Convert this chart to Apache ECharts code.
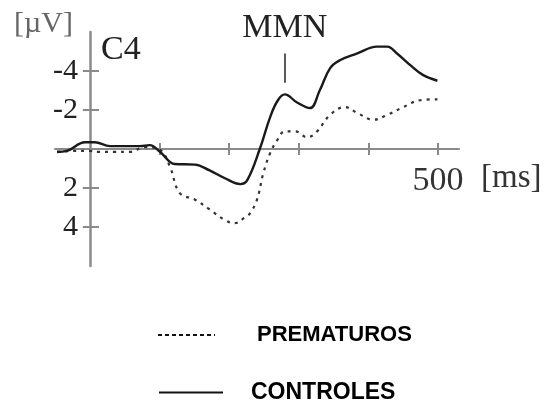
<!DOCTYPE html>
<html>
<head>
<meta charset="utf-8">
<script src="https://cdn.jsdelivr.net/npm/echarts@6/dist/echarts.min.js"></script>
<style>
  html, body { margin: 0; padding: 0; background: #fff; }
  #chart { width: 546px; height: 405px; }
</style>
</head>
<body>
<div id="chart"></div>
<script>
// ERP waveforms at electrode C4 (time in ms, amplitude in µV, negative up)
const controlesTime = [-47, -33, -7, 7, 29, 50, 72, 86, 101, 122, 151, 172, 194, 216, 226, 244, 259, 270, 280, 297, 316, 330, 345, 359, 384, 412, 427, 441, 460, 478, 499];
const controlesUv   = [0.15, 0.1, -0.35, -0.35, -0.15, -0.15, -0.15, -0.2, 0.15, 0.77, 0.8, 1.1, 1.5, 1.8, 1.6, 0.0, -1.65, -2.5, -2.8, -2.4, -2.1, -3.0, -4.15, -4.55, -4.9, -5.25, -5.25, -4.9, -4.3, -3.8, -3.5];

const prematurosTime = [-47, -22, 0, 14, 36, 57, 79, 101, 115, 129, 151, 172, 194, 208, 223, 230, 240, 249, 259, 269, 280, 295, 312, 326, 345, 366, 384, 407, 427, 450, 474, 499];
const prematurosUv   = [0.15, 0.1, 0.1, 0.15, 0.15, 0.15, -0.1, 0.05, 0.9, 2.25, 2.6, 3.1, 3.65, 3.8, 3.5, 3.3, 2.6, 1.25, 0.2, -0.45, -0.9, -0.9, -0.6, -0.9, -1.75, -2.15, -1.85, -1.5, -1.75, -2.15, -2.5, -2.55];

const yTickValues = [-4, -2, 2, 4];
const xTickValues = [100, 200, 300, 400, 500];
const xLabelValues = [500];
const mmnLatency = 280;

const seriesNames = ['PREMATUROS', 'CONTROLES'];

const pair = (xs, ys) => xs.map((x, i) => [x, ys[i]]);

const serif = '"Liberation Serif", "DejaVu Serif", serif';
const sans = '"Liberation Sans", Arial, sans-serif';
const axisGray = '#8a8a8a';

const X_RANGE = { min: -50, max: 530 };
const Y_RANGE = { min: -6, max: 6 };

const chart = echarts.init(document.getElementById('chart'), null, { renderer: 'canvas' });

// one legend block per series, stacked
const legendBlock = (name, left, top, width, textPad, fontSize, lineType) => ({
  orient: 'horizontal', left: left, top: top, padding: 0,
  itemWidth: width, itemHeight: 14,
  itemStyle: { opacity: 0 },
  textStyle: { fontFamily: sans, fontSize: fontSize, fontWeight: 'bold', color: '#000', padding: [0, 0, 0, textPad] },
  data: [{ name: name, lineStyle: { type: lineType, width: 2, color: '#111' } }]
});

chart.setOption({
  animation: false,
  backgroundColor: '#fff',
  grid: { left: 55, right: 87, top: 32, bottom: 139 },
  title: [
    { text: '[µV]', left: 14, top: 9, padding: 0,
      textStyle: { fontFamily: serif, fontSize: 30, fontWeight: 'normal', color: '#666' } },
    { text: 'C4', left: 101, top: 33, padding: 0,
      textStyle: { fontFamily: serif, fontSize: 34, fontWeight: 'normal', color: '#222' } },
    { text: '[ms]', left: 481, top: 162, padding: 0,
      textStyle: { fontFamily: serif, fontSize: 33, fontWeight: 'normal', color: '#333' } }
  ],
  xAxis: [
    {
      type: 'value', min: X_RANGE.min, max: X_RANGE.max,
      splitLine: { show: false },
      axisLine: { onZero: true, lineStyle: { color: axisGray, width: 2 } },
      axisTick: { show: true, customValues: xTickValues, length: 6, lineStyle: { color: axisGray, width: 2 } },
      axisLabel: { show: true, customValues: xLabelValues, margin: -102,
        fontFamily: serif, fontSize: 34, color: '#333' }
    },
    {
      // upper half of the crossing time ticks, placed on the zero line
      type: 'value', min: X_RANGE.min, max: X_RANGE.max, position: 'bottom', offset: -117,
      splitLine: { show: false },
      axisLine: { show: false, onZero: false },
      axisTick: { show: true, inside: true, customValues: xTickValues, length: 6, lineStyle: { color: axisGray, width: 2 } },
      axisLabel: { show: false }
    }
  ],
  yAxis: [
    {
      type: 'value', min: Y_RANGE.min, max: Y_RANGE.max, inverse: true,
      splitLine: { show: false },
      axisLine: { onZero: true, lineStyle: { color: axisGray, width: 2.5 } },
      axisTick: { show: true, customValues: yTickValues, length: 7, lineStyle: { color: axisGray, width: 2 } },
      axisLabel: { show: true, customValues: yTickValues, margin: -23,
        fontFamily: serif, fontSize: 30, color: '#222' }
    },
    {
      // right half of the crossing amplitude ticks, placed on the zero line
      type: 'value', min: Y_RANGE.min, max: Y_RANGE.max, inverse: true, position: 'left', offset: -35,
      splitLine: { show: false },
      axisLine: { show: false, onZero: false },
      axisTick: { show: true, inside: true, customValues: yTickValues, length: 9, lineStyle: { color: axisGray, width: 2 } },
      axisLabel: { show: false }
    }
  ],
  legend: [
    legendBlock(seriesNames[0], 157, 324, 57, 37, 22, [4, 3]),
    legendBlock(seriesNames[1], 158, 381, 64, 23, 23, 'solid')
  ],
  series: [
    {
      name: seriesNames[0], type: 'line', xAxisIndex: 0, yAxisIndex: 0,
      data: pair(prematurosTime, prematurosUv),
      smooth: 0.4, symbol: 'none', color: '#333',
      lineStyle: { color: '#333', width: 2.2, type: [3, 5] }
    },
    {
      name: seriesNames[1], type: 'line', xAxisIndex: 0, yAxisIndex: 0,
      data: pair(controlesTime, controlesUv),
      smooth: 0.4, symbol: 'none', color: '#1a1a1a',
      lineStyle: { color: '#1a1a1a', width: 2.4 },
      markLine: {
        silent: true, symbol: 'none',
        lineStyle: { type: 'solid', color: '#222', width: 1.5 },
        label: { show: true, position: 'end', distance: 8, formatter: 'MMN',
          fontFamily: serif, fontSize: 34, color: '#222' },
        data: [[{ coord: [mmnLatency, -3.4] }, { coord: [mmnLatency, -4.9] }]]
      }
    }
  ]
});
</script>
</body>
</html>
